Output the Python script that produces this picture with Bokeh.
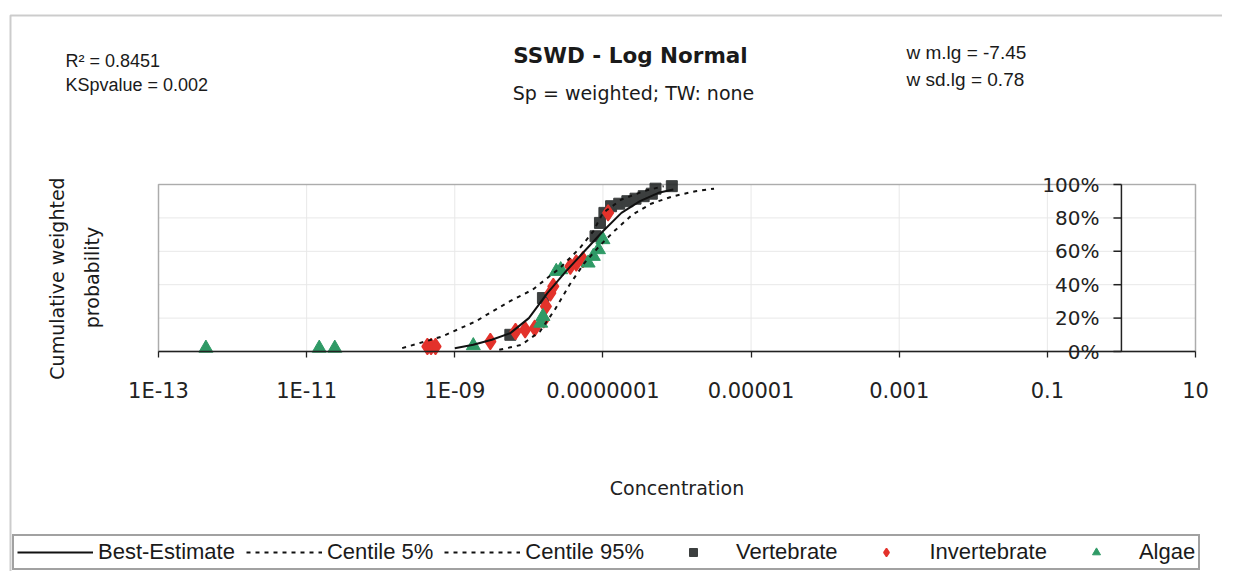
import numpy as np
from bokeh.plotting import figure
from bokeh.models import (Range1d, FixedTicker, CustomJSTickFormatter, Label, LabelSet,
                          ColumnDataSource, Legend, LegendItem, BoxAnnotation)
from bokeh.core.properties import value
from bokeh.embed import file_html
from bokeh.resources import INLINE

# ---------------- data (log10 concentration, cumulative weighted probability) ----------------
vert_log = [-8.25, -7.81, -7.10, -7.04, -6.98, -6.89, -6.78, -6.67, -6.56, -6.45, -6.34, -6.29, -6.07]
vert_p = [0.10, 0.32, 0.69, 0.77, 0.83, 0.87, 0.885, 0.90, 0.915, 0.93, 0.945, 0.975, 0.99]

inv_log = [-9.37, -9.32, -9.26, -8.52, -8.18, -8.05, -7.92, -7.80, -7.77, -7.71, -7.67,
           -7.44, -7.36, -7.27, -6.93]
inv_p = [0.03, 0.03, 0.03, 0.06, 0.12, 0.13, 0.14, 0.19, 0.27, 0.35, 0.39,
         0.51, 0.53, 0.55, 0.83]

alg_log = [-12.36, -10.83, -10.62, -8.75, -7.84, -7.81, -7.63, -7.57, -7.20, -7.13, -7.06, -7.00]
alg_p = [0.02, 0.02, 0.02, 0.035, 0.17, 0.21, 0.48, 0.49, 0.53, 0.57, 0.61, 0.67]

best_log = [-9.0, -8.75, -8.5, -8.25, -8.0, -7.75, -7.5, -7.25, -7.0, -6.75, -6.5, -6.25, -6.05]
best_p = [0.02, 0.04, 0.07, 0.11, 0.20, 0.35, 0.48, 0.60, 0.72, 0.83, 0.90, 0.95, 0.97]

c5_log = [-9.71, -9.17, -8.72, -8.26, -7.95, -7.58, -7.31, -7.13, -7.0, -6.75, -6.45, -6.18]
c5_p = [0.02, 0.09, 0.18, 0.30, 0.37, 0.50, 0.62, 0.72, 0.83, 0.91, 0.96, 0.99]

c95_log = [-8.4, -8.1, -7.85, -7.65, -7.45, -7.25, -7.05, -6.85, -6.6, -6.35, -6.05, -5.75, -5.5]
c95_p = [0.01, 0.04, 0.12, 0.25, 0.40, 0.53, 0.63, 0.72, 0.82, 0.885, 0.93, 0.96, 0.975]

tick_exps = [-13, -11, -9, -7, -5, -3, -1, 1]
tick_labels = ["1E-13", "1E-11", "1E-09", "0.0000001", "0.00001", "0.001", "0.1", "10"]

pct_vals = [0.0, 0.2, 0.4, 0.6, 0.8, 1.0]
pct_labels = ["0%", "20%", "40%", "60%", "80%", "100%"]
sec_axis_x = 1.0

# ---------------- layout (pixels in the figure canvas) ----------------
W, H = 1222, 571
PX0, PX1, PY_TOP, PY_BOT = 158, 1195, 184, 351
X_LO, X_HI = tick_exps[0], tick_exps[-1]
ppd = (PX1 - PX0) / (X_HI - X_LO)
ppu = (PY_BOT - PY_TOP) / 1.0
x_start = 10 ** (X_LO - PX0 / ppd)
x_end = 10 ** (X_HI + (W - PX1) / ppd)
y_start = -(H - PY_BOT) / ppu
y_end = 1 + PY_TOP / ppu

p = figure(width=W, height=H, x_axis_type="log", output_backend="svg", toolbar_location=None,
           x_range=Range1d(x_start, x_end), y_range=Range1d(y_start, y_end),
           min_border=0, min_border_left=0, min_border_right=0, min_border_top=0,
           min_border_bottom=0)
p.background_fill_color = "white"
p.border_fill_color = "white"
p.outline_line_color = None
p.xgrid.visible = False
p.ygrid.visible = False
p.yaxis.visible = False

ticks = [10.0 ** e for e in tick_exps]
xa = p.xaxis[0]
xa.fixed_location = 0
xa.bounds = (ticks[0], ticks[-1])
xa.ticker = FixedTicker(ticks=ticks)
xa.formatter = CustomJSTickFormatter(args=dict(exps=tick_exps, labels=tick_labels), code="""
const e = Math.round(Math.log10(tick));
const i = exps.indexOf(e);
return i >= 0 ? labels[i] : "";
""")
xa.minor_tick_line_color = None
xa.major_tick_in = 0
xa.major_tick_out = 6
xa.major_tick_line_color = "#222222"
xa.major_tick_line_width = 1.3
xa.axis_line_color = "#222222"
xa.axis_line_width = 1.6
xa.major_label_text_font = "DejaVu Sans"
xa.major_label_text_font_size = "21px"
xa.major_label_text_color = "#222222"
xa.major_label_standoff = 21
xa.axis_label = "Concentration"
xa.axis_label_text_font = "DejaVu Sans"
xa.axis_label_text_font_size = "19px"
xa.axis_label_text_font_style = "normal"
xa.axis_label_text_color = "#222222"
xa.axis_label_standoff = 71

# faint grid lines inside the plot area
p.segment(x0=ticks, x1=ticks, y0=[0] * len(ticks), y1=[1] * len(ticks),
          line_color="#e8e8e8", line_width=1)
p.segment(x0=[ticks[0]] * len(pct_vals), x1=[ticks[-1]] * len(pct_vals), y0=pct_vals, y1=pct_vals,
          line_color="#e8e8e8", line_width=1)

# plot area box
p.add_layout(BoxAnnotation(left=ticks[0], right=ticks[-1], bottom=0, top=1, fill_alpha=0,
                           line_color="#222222", line_width=1.6))

# secondary percentage axis inside the plot
p.segment(x0=[sec_axis_x], x1=[sec_axis_x], y0=[0], y1=[1], line_color="#222222", line_width=1.5)
p.segment(x0=[sec_axis_x] * len(pct_vals), x1=[sec_axis_x * 0.78] * len(pct_vals),
          y0=pct_vals, y1=pct_vals, line_color="#222222", line_width=1.5)
pct_src = ColumnDataSource(dict(x=[sec_axis_x] * len(pct_vals), y=pct_vals, t=pct_labels))
p.add_layout(LabelSet(x="x", y="y", text="t", source=pct_src, x_offset=-22,
                      text_align=value("right"), text_baseline=value("middle"),
                      text_font=value("DejaVu Sans"), text_font_size=value("20px"),
                      text_color=value("#222222")))

# markers
r_vert = p.scatter(x=[10.0 ** v for v in vert_log], y=vert_p, marker="square", size=11,
                   fill_color="#3c3f3f", line_color="#3c3f3f")
r_inv = p.scatter(x=[10.0 ** v for v in inv_log], y=inv_p, marker="diamond", size=16,
                  fill_color="#e3322b", line_color="#e3322b", line_width=1.5)
r_alg = p.scatter(x=[10.0 ** v for v in alg_log], y=alg_p, marker="triangle", size=14,
                  fill_color="#2f9a66", line_color="#2f9a66")

# curves
r_best = p.line(x=[10.0 ** v for v in best_log], y=best_p, line_color="#111111", line_width=2)
r_c5 = p.line(x=[10.0 ** v for v in c5_log], y=c5_p, line_color="#111111", line_width=2,
              line_dash="4 5")
r_c95 = p.line(x=[10.0 ** v for v in c95_log], y=c95_p, line_color="#111111", line_width=2,
               line_dash="4 5")

# texts (screen units: x from left of canvas, y up from canvas bottom)
def lab(text, fx, fy, font, size, style="normal", align="left", angle=0.0):
    p.add_layout(Label(x=fx, y=H - fy, x_units="screen", y_units="screen", text=text,
                       text_font=font, text_font_size=size, text_font_style=style,
                       text_align=align, text_baseline="middle", text_color="#1a1a1a",
                       angle=angle))

lab("R² = 0.8451", 65, 60, "Liberation Sans", "18px")
lab("KSpvalue = 0.002", 65, 84, "Liberation Sans", "18px")
lab("SSWD - Log Normal", 630, 55, "DejaVu Sans", "21.5px", "bold", "center")
lab("Sp = weighted; TW: none", 633, 92, "DejaVu Sans", "19px", "normal", "center")
lab("w m.lg = -7.45", 906, 52, "Liberation Sans", "19px")
lab("w sd.lg = 0.78", 906, 79, "Liberation Sans", "19px")
lab("Cumulative weighted", 56, 278, "DejaVu Sans", "19px", "normal", "center", np.pi / 2)
lab("probability", 91, 277, "DejaVu Sans", "19px", "normal", "center", np.pi / 2)

# outer chart border (top and left edges visible)
p.add_layout(BoxAnnotation(left=10, right=W + 40, top=H - 15, bottom=-40, left_units="screen",
                           right_units="screen", top_units="screen", bottom_units="screen",
                           fill_alpha=0, line_color="#555555", line_width=2))

legend = Legend(items=[LegendItem(label="Best-Estimate", renderers=[r_best]),
                       LegendItem(label="Centile 5%", renderers=[r_c5]),
                       LegendItem(label="Centile 95%", renderers=[r_c95]),
                       LegendItem(label="Vertebrate", renderers=[r_vert]),
                       LegendItem(label="Invertebrate", renderers=[r_inv]),
                       LegendItem(label="Algae", renderers=[r_alg])],
                orientation="horizontal", location=(12, 1), glyph_width=76, glyph_height=20,
                label_standoff=5, spacing=11, padding=3, margin=0,
                border_line_color="#444444", border_line_width=2, background_fill_alpha=0,
                label_text_font="Liberation Sans", label_text_font_size="22px",
                label_text_color="#1a1a1a")
p.add_layout(legend)

open("out.html", "w").write(file_html(p, INLINE))
